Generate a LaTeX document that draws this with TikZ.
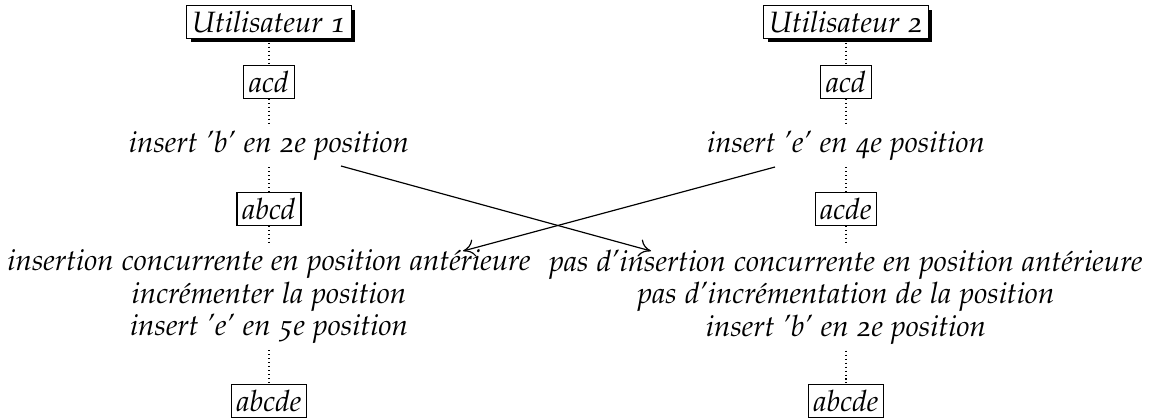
\documentclass[tikz,border=0pt]{standalone}
\usepackage[T1]{fontenc}
\usepackage[osf]{mathpazo}
\usetikzlibrary{shadows,arrows.meta}
\begin{document}
\begin{tikzpicture}[x=0.34pt,y=-0.34pt,
  box/.style={draw, line width=0.4pt, inner sep=1.8pt, font=\itshape},
  user/.style={box, fill=white, drop shadow={shadow xshift=1.4pt, shadow yshift=-1.4pt, opacity=1, fill=black}},
  lbl/.style={font={\fontsize{10}{9}\selectfont\itshape}, align=center, inner sep=2pt},
  life/.style={line width=0.35pt, dash pattern=on 0.35pt off 1pt},
  msg/.style={-{To[length=4pt,width=6pt]}, line width=0.4pt}]
\useasboundingbox (0,0) rectangle (1153,419);
% left column
\node[user] (u1) at (269,22) {Utilisateur 1};
\node[box] (a1) at (269,82) {acd};
\node[lbl] (l1) at (269,146) {insert 'b' en 2e position};
\node[box] (b1) at (269,209) {abcd};
\node[lbl] (m1) at (269,297) {insertion concurrente en position antérieure\\incrémenter la position\\insert 'e' en 5e position};
\node[box] (c1) at (269,401) {abcde};
% right column
\node[user] (u2) at (846,22) {Utilisateur 2};
\node[box] (a2) at (846,82) {acd};
\node[lbl] (l2) at (846,146) {insert 'e' en 4e position};
\node[box] (b2) at (846,209) {acde};
\node[lbl] (m2) at (846,297) {pas d'insertion concurrente en position antérieure\\pas d'incrémentation de la position\\insert 'b' en 2e position};
\node[box] (c2) at (846,401) {abcde};
% lifelines
\foreach \c in {1,2}{
  \draw[life] (u\c) -- (a\c);
  \draw[life] (a\c) -- (l\c);
  \draw[life] (l\c) -- (b\c);
  \draw[life] (b\c) -- (m\c);
  \draw[life] (m\c) -- (c\c);
}
% messages
\coordinate (s1) at (341,166);
\coordinate (e1) at (651,251);
\coordinate (s2) at (775,167);
\coordinate (e2) at (463,251);
\draw[msg] (s1) -- (e1);
\draw[msg] (s2) -- (e2);
\end{tikzpicture}
\end{document}
